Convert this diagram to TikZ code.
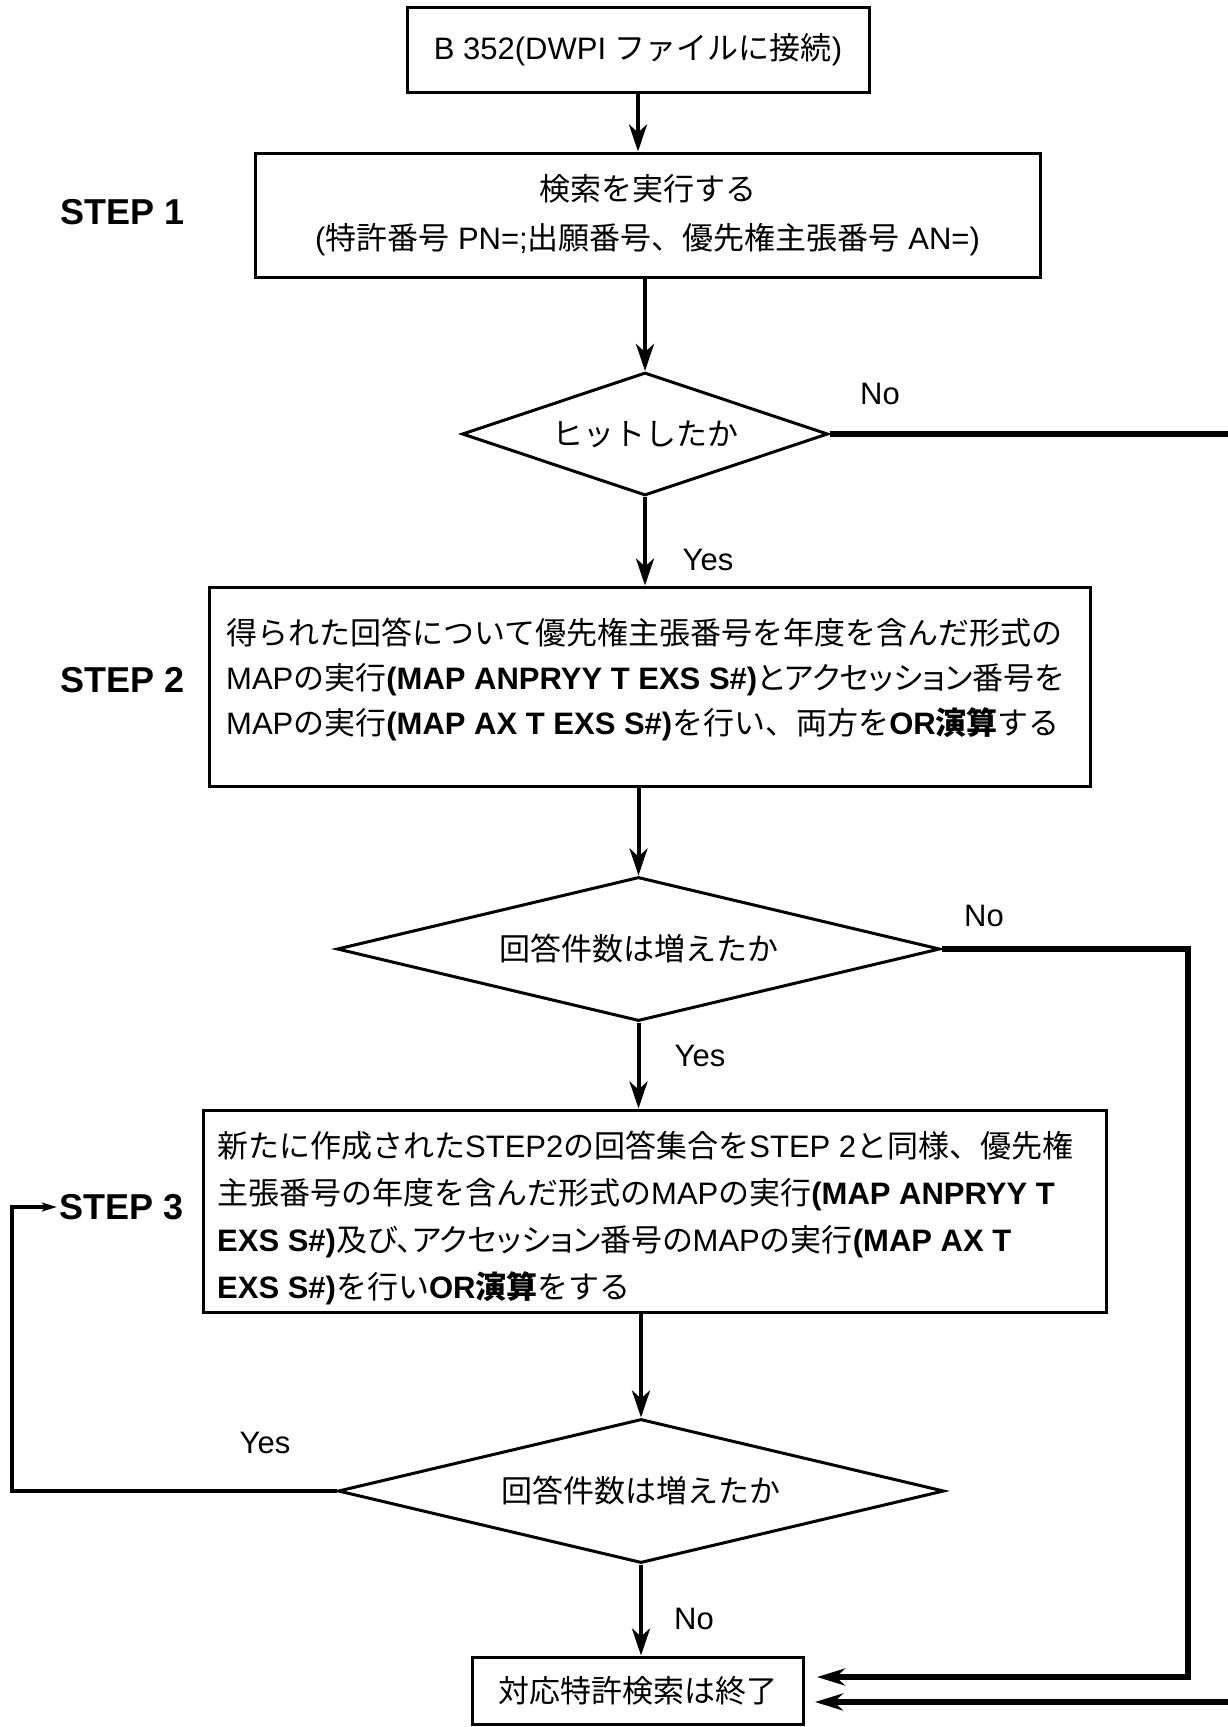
\documentclass[tikz,border=0pt]{standalone}
\usepackage{fontspec}
\setmainfont{Liberation Sans}
\newfontfamily\jpfont{Noto Sans CJK JP}
\newfontfamily\jppfont{Noto Sans CJK JP}[RawFeature=+palt]
\newcommand{\jp}[1]{{\jpfont #1}}
\newcommand{\jpp}[1]{{\jppfont #1}}
\usetikzlibrary{arrows.meta,shapes.geometric}
\tikzset{my box/.style={
  draw,
  line width=3pt,
  inner sep=0pt
  }
}
\tikzset{my diamond/.style={
  draw,
  diamond,
  line width=3pt,
  inner sep=0pt
  }
}
\tikzset{my step/.style={
  font=\fontsize{36}{40}\selectfont\bfseries,
  inner sep=3pt
  }
}
\tikzset{my arrow/.style={
  line width=4pt,
  -{Stealth[length=27pt,width=18pt,inset=8pt]}
  }
}
\tikzset{my side arrow/.style={
  line width=5.5pt,
  -{Stealth[length=28pt,width=17pt,inset=9pt]}
  }
}
\tikzset{my back arrow/.style={
  line width=4pt,
  -{Stealth[length=15pt,width=9pt,inset=4pt]}
  }
}

\begin{document}
\begin{tikzpicture}[x=1pt,y=-1pt,font=\fontsize{31}{46}\selectfont]
    \useasboundingbox (0,0) rectangle (1228,1727);

    \node[my box,minimum width=462pt,minimum height=85pt] (start) at (638,50) {B 352(DWPI \jp{ファイルに接続})};

    \node[my box,minimum width=785pt,minimum height=124pt,align=center,font=\fontsize{31}{49}\selectfont] (s1) at (647.5,215)
        {\jp{検索を実行する}\\(\jp{特許番号} PN=;\jp{出願番号、優先権主張番号} AN=)};
    \node[my step] (st1) at (123,212) {STEP 1};

    \node[my diamond,minimum width=366pt,minimum height=123pt,aspect=3] (d1) at (645,434) {\jp{ヒットしたか}};
    \node (no1) at (880,394) {No};
    \node (yes1) at (708,560) {Yes};

    \node[my box,minimum width=881pt,minimum height=199pt] (s2) at (649.5,686.5) {};
    \node[anchor=west,align=left,inner sep=0pt,font=\fontsize{31}{45}\selectfont] (s2txt) at (226,679)
        {\jp{得られた回答について優先権主張番号を年度を含んだ形式の}\\
         MAP\jp{の実行}\textbf{(MAP ANPRYY T EXS S\#)}\jpp{とアクセッション番号を}\\
         MAP\jp{の実行}\textbf{(MAP AX T EXS S\#)}\jp{を行い、両方を}\textbf{OR\jp{演算}}\jp{する}};
    \node[my step] (st2) at (123,680) {STEP 2};

    \node[my diamond,minimum width=603pt,minimum height=144pt,aspect=4.2] (d2) at (638.5,949) {\jp{回答件数は増えたか}};
    \node (no2) at (984,916) {No};
    \node (yes2) at (700,1056) {Yes};

    \node[my box,minimum width=903pt,minimum height=202pt] (s3) at (654.5,1211) {};
    \node[anchor=west,align=left,inner sep=0pt,font=\fontsize{31}{47}\selectfont] (s3txt) at (217,1218)
        {\jp{新たに作成された}STEP2\jp{の回答集合を}STEP 2\jp{と同様、優先権}\\
         \jp{主張番号の年度を含んだ形式の}MAP\jp{の実行}\textbf{(MAP ANPRYY T}\\
         \textbf{EXS S\#)}\jpp{及び、アクセッション番号の}MAP\jp{の実行}\textbf{(MAP AX T}\\
         \textbf{EXS S\#)}\jp{を行い}\textbf{OR\jp{演算}}\jp{をする}};
    \node[my step] (st3) at (122,1207) {STEP 3};

    \node[my diamond,minimum width=606pt,minimum height=144pt,aspect=4.2] (d3) at (641,1491) {\jp{回答件数は増えたか}};
    \node (yes3) at (265,1443) {Yes};
    \node (no3) at (694,1619) {No};

    \node[my box,minimum width=331pt,minimum height=67pt] (end) at (637.5,1690.5) {\jp{対応特許検索は終了}};

    % main flow
    \draw[my arrow] (start) -- (start |- s1.north);
    \draw[my arrow] (s1.south -| d1) -- (d1.north);
    \draw[my arrow] (d1) -- (d1 |- s2.north);
    \draw[my arrow] (s2.south -| d2) -- (d2.north);
    \draw[my arrow] (d2) -- (d2 |- s3.north);
    \draw[my arrow] (s3.south -| d3) -- (d3.north);
    \draw[my arrow] (d3) -- (d3 |- end.north);

    % side connectors
    \coordinate (in1) at (817,1677);
    \coordinate (in2) at (815,1702);
    \coordinate (r1) at (1250,1702);
    \coordinate (r2) at (1188,1677);
    \coordinate (l3) at (12,1207);
    \draw[my side arrow] (d1.east) -| (r1) -- (in2);
    \draw[my side arrow] (d2.east) -| (r2) -- (in1);
    \draw[my back arrow] (d3.west) -| (l3) -- (st3.west);
\end{tikzpicture}
\end{document}
